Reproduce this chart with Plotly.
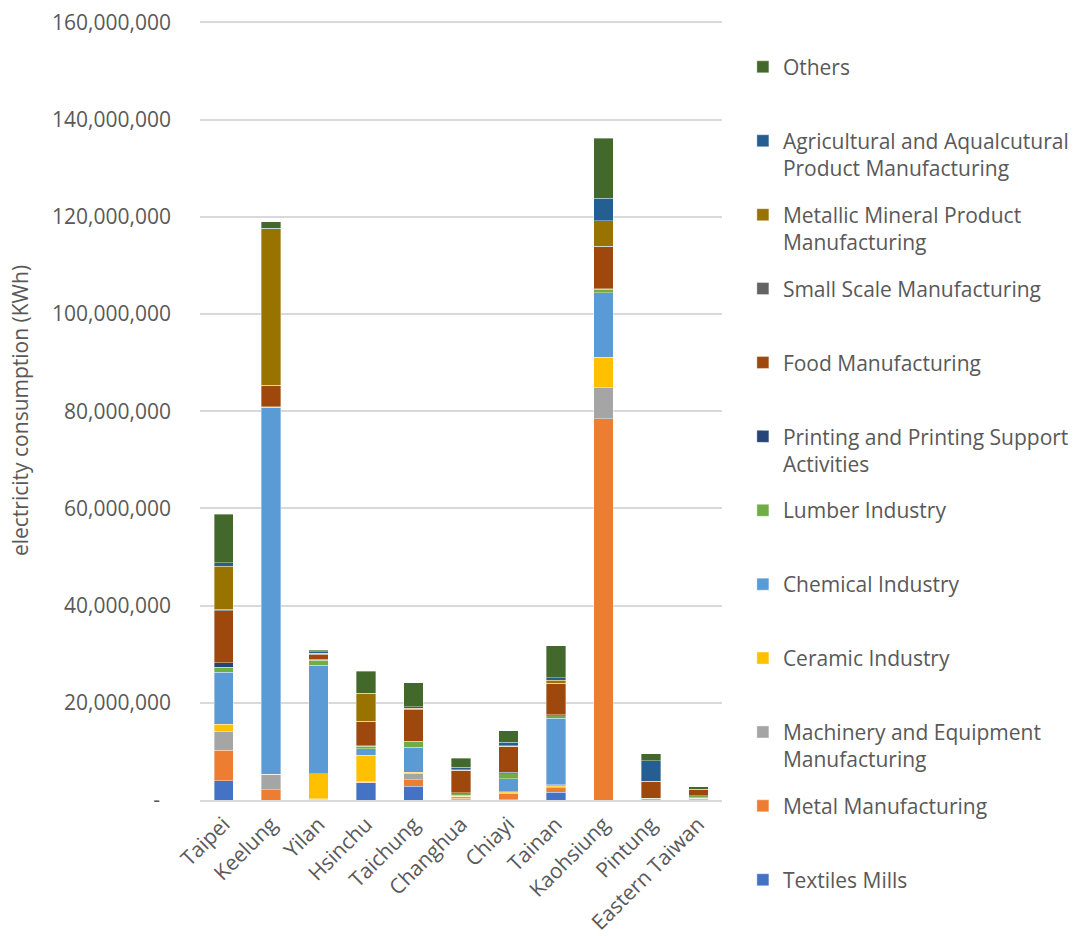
import plotly.graph_objects as go

regions = ["Taipei", "Keelung", "Yilan", "Hsinchu", "Taichung", "Changhua",
           "Chiayi", "Tainan", "Kaohsiung", "Pintung", "Eastern Taiwan"]

textiles = [4000000, 0, 100000, 3500000, 2800000, 100000, 100000, 1600000, 0, 0, 0]
metal = [6200000, 2100000, 100000, 200000, 1400000, 300000, 1300000, 900000, 78500000, 0, 100000]
machinery = [3900000, 3200000, 100000, 200000, 1300000, 300000, 100000, 200000, 6400000, 100000, 300000]
ceramic = [1500000, 0, 5100000, 5300000, 200000, 100000, 200000, 400000, 6200000, 0, 0]
chemical = [10700000, 75400000, 22300000, 1300000, 5200000, 200000, 2700000, 13700000, 13300000, 0, 100000]
lumber = [1000000, 100000, 1100000, 600000, 1100000, 300000, 1000000, 500000, 700000, 300000, 400000]
printing = [900000, 100000, 200000, 100000, 100000, 200000, 300000, 200000, 100000, 0, 0]
food = [10700000, 4300000, 1000000, 4900000, 6600000, 4600000, 5400000, 6400000, 8600000, 3400000, 1200000]
small_scale = [400000, 100000, 100000, 100000, 100000, 0, 0, 100000, 200000, 0, 0]
metallic = [8800000, 32300000, 100000, 5700000, 100000, 100000, 100000, 600000, 5200000, 100000, 0]
agricultural = [700000, 100000, 300000, 100000, 300000, 500000, 700000, 600000, 4600000, 4200000, 100000]
others = [10000000, 1300000, 300000, 4500000, 4900000, 1900000, 2400000, 6500000, 12400000, 1400000, 500000]

series_names = [
    "Textiles Mills",
    "Metal Manufacturing",
    "Machinery and Equipment<br>Manufacturing",
    "Ceramic Industry",
    "Chemical Industry",
    "Lumber Industry",
    "Printing and Printing Support<br>Activities",
    "Food Manufacturing",
    "Small Scale Manufacturing",
    "Metallic Mineral Product<br>Manufacturing",
    "Agricultural and Aqualcutural<br>Product Manufacturing",
    "Others",
]
series_values = [textiles, metal, machinery, ceramic, chemical, lumber, printing,
                 food, small_scale, metallic, agricultural, others]
colors = ["#4472C4", "#ED7D31", "#A5A5A5", "#FFC000", "#5B9BD5", "#70AD47",
          "#264478", "#9E480E", "#636363", "#997300", "#255E91", "#43682B"]

y_tick_vals = [0, 20000000, 40000000, 60000000, 80000000, 100000000,
               120000000, 140000000, 160000000]
y_tick_text = ["-\u00a0\u00a0", "20,000,000", "40,000,000", "60,000,000", "80,000,000",
               "100,000,000", "120,000,000", "140,000,000", "160,000,000"]

FONT = "Open Sans"
GREY = "#595959"

fig = go.Figure()
n = len(series_names)
for i, (name, vals, col) in enumerate(zip(series_names, series_values, colors)):
    label = name if "<br>" in name else name + "<br>\u00a0"
    fig.add_trace(go.Bar(
        x=regions, y=vals, name=label, legendgroup=f"g{i}", legendrank=(n - i) * 10,
        marker=dict(color=col, line=dict(color="rgba(255,255,255,0.6)", width=0.6)),
    ))

fig.update_layout(
    barmode="stack",
    bargap=0.59,
    width=1075, height=936,
    margin=dict(l=200, r=353, t=21, b=136, autoexpand=False),
    paper_bgcolor="white", plot_bgcolor="white",
    font=dict(family=FONT, size=21, color=GREY),
    legend=dict(
        x=1.04, xanchor="left", y=0.967, yanchor="top",
        traceorder="grouped", valign="top", maxheight=930,
        tracegroupgap=16.3, font=dict(family=FONT, size=21, color=GREY),
        itemclick=False,
    ),
    showlegend=True,
)
fig.update_xaxes(
    tickangle=-45, showgrid=False, showline=True, linecolor="#D9D9D9", linewidth=1.5,
    ticks="", ticklabelstandoff=2, automargin=False,
    tickfont=dict(family=FONT, size=21, color=GREY),
)
fig.update_yaxes(
    range=[0, 160300000], tickvals=y_tick_vals, ticktext=y_tick_text,
    showgrid=True, gridcolor="#D9D9D9", gridwidth=1.5, zeroline=False,
    ticks="", ticklabelstandoff=28, automargin=False,
    tickfont=dict(family=FONT, size=21, color=GREY),
    title=dict(text="electricity consumption (KWh)", font=dict(family=FONT, size=21, color=GREY),
               standoff=17),
)

fig.write_html("out.html", config={"displayModeBar": False},
               post_script="document.body.style.margin='0';")
